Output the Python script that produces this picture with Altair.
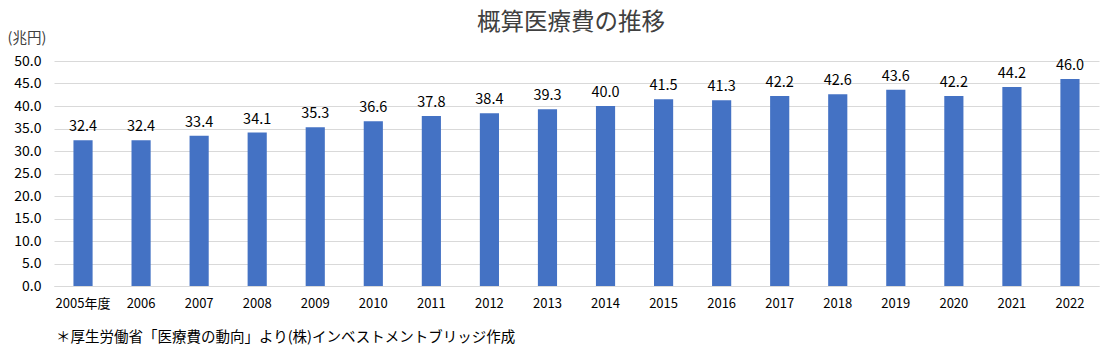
import altair as alt
import pandas as pd

years = ["2005年度", "2006", "2007", "2008", "2009", "2010", "2011", "2012", "2013",
         "2014", "2015", "2016", "2017", "2018", "2019", "2020", "2021", "2022"]
values = [32.4, 32.4, 33.4, 34.1, 35.3, 36.6, 37.8, 38.4, 39.3,
          40.0, 41.5, 41.3, 42.2, 42.6, 43.6, 42.2, 44.2, 46.0]
y_ticks = [0, 5, 10, 15, 20, 25, 30, 35, 40, 45, 50]

df = pd.DataFrame({"year": years, "value": values})

FONT = "Noto Sans CJK JP"
TXT = "#404040"

x_enc = alt.X("year:N", sort=years, title=None,
              scale=alt.Scale(paddingInner=0.67, paddingOuter=0.335),
              axis=alt.Axis(labelAngle=0, labelFontSize=13, labelColor="#000000",
                            labelPadding=11, ticks=False, domainColor="#d9d9d9",
                            labelFont=FONT, labelOverlap=False))
y_enc = alt.Y("value:Q", title="(兆円)",
              scale=alt.Scale(domain=[0, 50], nice=False),
              axis=alt.Axis(values=y_ticks, tickCount=11, format=".1f", labelFontSize=14,
                            labelColor="#000000", labelPadding=13, ticks=False,
                            domain=False, gridColor="#d9d9d9", labelFont=FONT,
                            labelOverlap=False, labelFlush=False,
                            titleAngle=0, titleAlign="left", titleBaseline="middle",
                            titleX=-47, titleY=-23, titleFontSize=14.5,
                            titleFontWeight="normal", titleColor=TXT, titleFont=FONT))

bars = alt.Chart(df).mark_bar(color="#4472C4").encode(x=x_enc, y=y_enc)
labels = alt.Chart(df).mark_text(baseline="bottom", dy=-6, fontSize=14.5,
                                 font=FONT, color="#000000").encode(
    x=x_enc, y=y_enc, text=alt.Text("value:Q", format=".1f"))

title_df = pd.DataFrame({"t": ["概算医療費の推移"]})
title = alt.Chart(title_df).mark_text(fontSize=23.5, font=FONT, color=TXT,
                                      baseline="middle", align="center").encode(
    x=alt.value(517), y=alt.value(-38), text="t:N")

note_df = pd.DataFrame({"t": ["＊厚生労働省「医療費の動向」より(株)インベストメントブリッジ作成"]})
note = alt.Chart(note_df).mark_text(fontSize=14.5, font=FONT, color="#000000",
                                    baseline="middle", align="left").encode(
    x=alt.value(2), y=alt.value(277), text="t:N")

chart = alt.layer(bars, labels, title, note).properties(
    width=1045, height=225,
    autosize=alt.AutoSizeParams(type="none"),
    padding={"left": 54, "top": 61, "right": 12, "bottom": 69},
    background="#ffffff"
).configure_view(stroke=None)

chart.save("out.html", embed_options={"renderer": "svg", "actions": False})
